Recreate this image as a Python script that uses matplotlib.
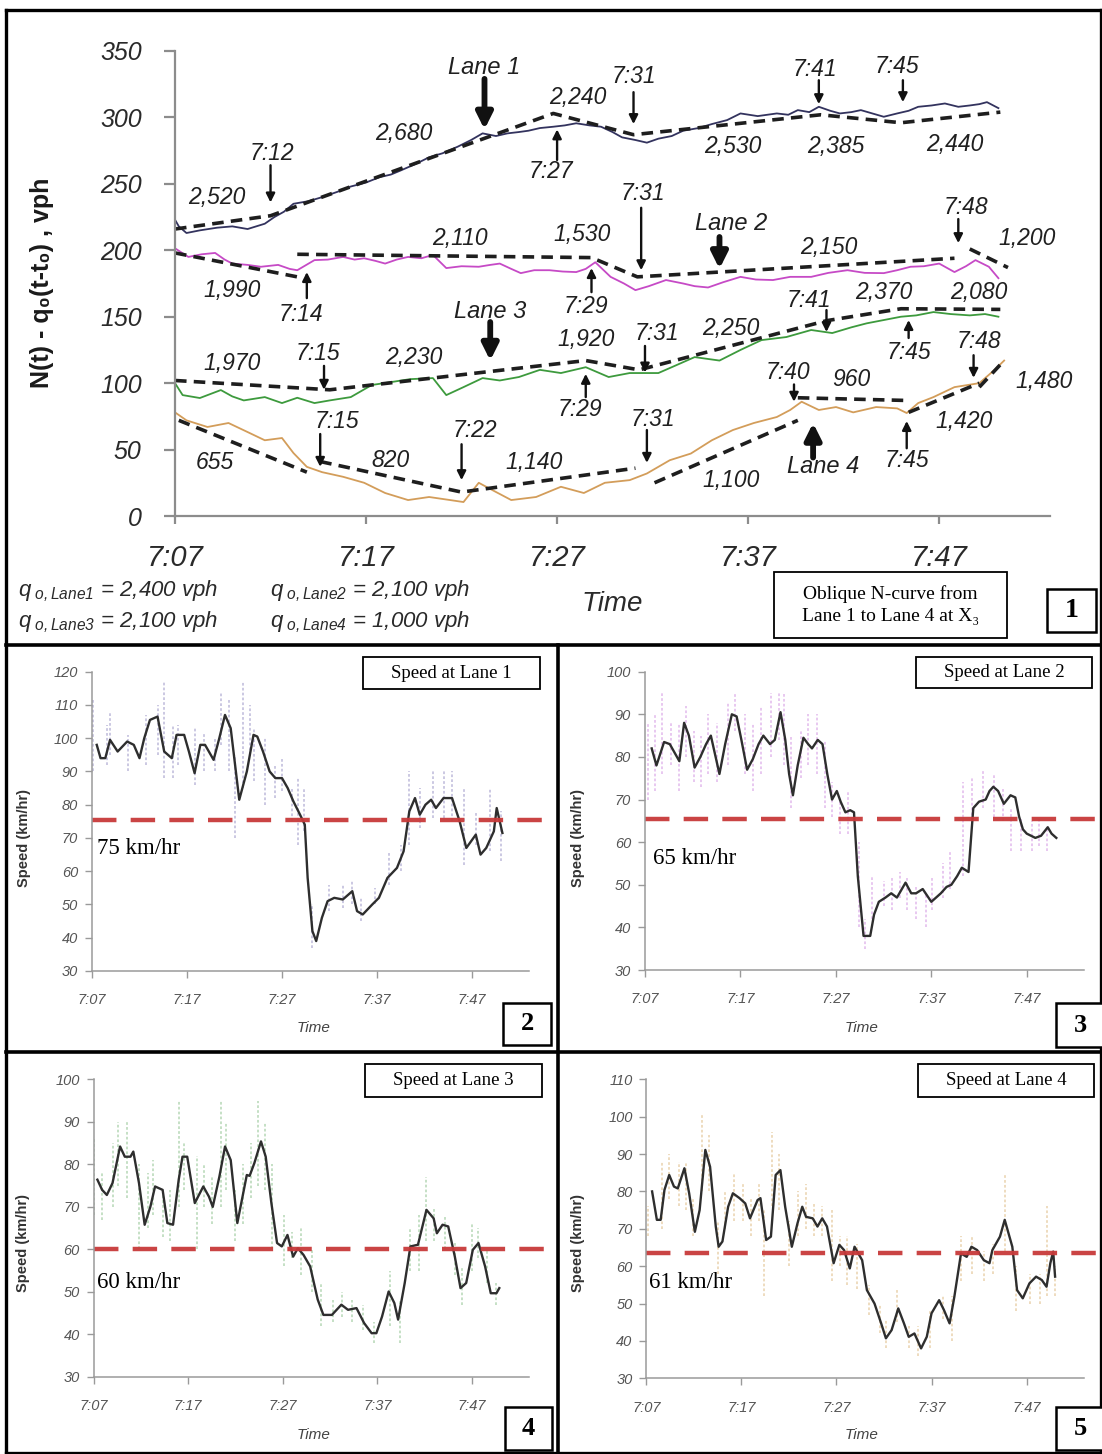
import numpy as np
import matplotlib
matplotlib.use('Agg')
import matplotlib.pyplot as plt
from matplotlib.patches import Rectangle
from matplotlib.lines import Line2D

nan = np.nan
W, H = 1102, 1454

# ---------------- data: oblique N-curves (minutes after 7:07, vehicles) ----------------
time_ticks = [0, 10, 20, 30, 40]
time_labels = ['7:07', '7:17', '7:27', '7:37', '7:47']

lane1_t = [0, 0.2, 0.6, 1.3, 2.2, 3.0, 3.8, 4.7, 5.2, 5.7, 6.2, 7.0, 7.7, 8.5, 9.2, 10.0, 10.7, 11.3, 11.8, 12.6,
           13.3, 14.0, 14.8, 15.5, 16.1, 16.8, 17.4, 18.0, 18.5, 19.1, 19.8, 20.4, 21.0, 21.7, 22.3, 22.9, 23.4, 24.1,
           24.7, 25.3, 26.0, 26.6, 27.4, 28.1, 28.9, 29.6, 30.5, 31.5, 32.1, 32.6, 33.2, 33.7, 34.3, 34.8, 35.4, 35.9,
           36.5, 37.1, 37.8, 38.4, 38.9, 39.6, 40.3, 41.0, 41.6, 42.1, 42.5, 43.1]
lane1_n = [223, 218, 213, 215, 217, 218, 216, 220, 225, 229, 235, 237, 240, 244, 248, 251, 255, 257, 260, 265,
           270, 273, 278, 283, 288, 286, 288, 289, 290, 292, 293, 294, 295.6, 294, 293, 289, 285, 283,
           281, 284, 286, 290, 292, 295, 298, 303, 301, 303, 302, 305.5, 304, 308, 305, 303, 304, 305.5,
           303, 300.5, 303, 305, 308, 309, 310.5, 308, 309, 310, 311.5, 307]
lane2_t = [0, 0.7, 1.4, 2.1, 2.6, 3.0, 3.8, 4.5, 5.4, 6.0, 6.4, 7.3, 8.0, 8.8, 9.4, 9.9, 10.5, 11.0, 11.6, 12.2,
           12.9, 13.5, 14.2, 15.0, 15.9, 16.5, 17.0, 17.6, 18.1, 18.8, 19.6, 20.3, 21.0, 21.5, 22.0, 22.8, 23.5, 24.1,
           24.8, 25.7, 26.6, 27.2, 27.9, 28.7, 29.6, 30.4, 31.3, 32.2, 33.3, 34.2, 35.2, 36.1, 37.1, 37.8, 38.5, 39.2,
           40.0, 40.8, 41.4, 41.9, 42.6, 43.1]
lane2_n = [201.5, 195, 197, 198, 193, 190, 189, 187.6, 189, 186, 185, 192.6, 193, 195, 193, 194, 192, 190, 193, 195,
           194, 196.5, 186.6, 188, 187.6, 189, 190, 186, 182.8, 185, 185, 184, 183.6, 186, 191, 180, 175, 170,
           173, 177.6, 175, 173, 172, 176, 180, 178, 177.6, 180, 180, 183, 185, 183, 182.8, 185, 187.6, 188,
           190, 183.6, 188, 192.6, 187.6, 179]
lane3_t = [0, 0.4, 1.3, 2.4, 3.0, 3.6, 4.7, 5.6, 6.4, 7.3, 8.1, 9.2, 10.3, 11.4, 12.3, 13.5, 14.2, 15.1, 16.1, 17.0,
           18.0, 19.1, 20.2, 21.5, 22.7, 23.8, 25.3, 26.0, 27.2, 28.5, 29.6, 30.7, 32.0, 33.3, 34.4, 35.4, 36.2, 37.1,
           38.0, 38.8, 39.7, 40.6, 41.6, 42.4, 43.1]
lane3_n = [100, 91, 88.8, 94.8, 90, 87, 89.5, 85, 89, 85, 87, 89.5, 98.6, 101, 103, 103.8, 91, 97, 103.8, 102,
           104.6, 110, 107.6, 112, 104.6, 107.6, 107.6, 112, 119.6, 117, 125, 132.4, 134.7, 140, 137.7, 142, 145, 147.5,
           150, 151, 153.5, 152, 151, 152, 150]
lane4_t = [0, 0.6, 1.7, 2.8, 3.9, 4.7, 5.6, 6.2, 6.9, 7.7, 8.8, 9.9, 11.0, 12.2, 13.3, 14.4, 15.1, 15.9, 16.6, 17.6,
           18.9, 20.2, 21.4, 22.5, 23.8, 24.7, 25.9, 27.0, 28.1, 29.2, 30.3, 31.5, 32.2, 32.8, 33.7, 34.6, 35.5, 36.7,
           37.8, 38.3, 38.9, 39.7, 40.8, 42.1, 42.9, 43.4]
lane4_n = [78, 72, 67, 70, 62.5, 57, 58.7, 47.4, 37, 33, 29.5, 25, 17.3, 12, 14.3, 12, 10.5, 25, 19.6, 12,
           14.3, 22, 17.3, 25, 27, 32, 42, 47, 57, 64.7, 70, 74.5, 79.8, 86, 79.8, 82, 78, 82,
           81, 77.5, 85, 89.5, 97, 100, 110, 117]

# piecewise-linear oblique fits (NaN separates pieces)
lane1_fit_t = [0, 5, 19.8, 24, 33.8, 38, 43.2]
lane1_fit_n = [216, 226, 303, 287, 302, 296, 304]
lane2_fit_t = [0, 6.4, nan, 6.4, 21.8, 24.2, 40.8, nan, 41.6, 43.6]
lane2_fit_n = [198, 180, nan, 197, 194.5, 180, 194, nan, 201, 187]
lane3_fit_t = [0, 8.1, 21.5, 24.3, 34.1, 38, 43.2]
lane3_fit_n = [102, 95, 117, 110, 147, 156, 155.5]
lane4_fit_t = [0.2, 6.9, nan, 7.6, 15, 24.1, nan, 25.1, 32.6, nan, 32.6, 38.2, nan, 38.4, 42.1, nan, 42.1, 43.4]
lane4_fit_n = [72, 33, nan, 41, 18, 36, nan, 25, 72, nan, 89, 87, nan, 78, 100, nan, 97, 117]

# ---------------- data: speeds (km/hr) ----------------
spd1_t = [0.5, 0.9, 1.4, 1.9, 2.7, 3.7, 4.4, 5.0, 5.5, 6.1, 6.9, 7.6, 8.4, 8.9, 9.7, 10.2, 10.8, 11.4, 11.9, 12.8,
          13.4, 14.0, 14.6, 15.5, 16.3, 17.0, 17.4, 18.0, 18.7, 19.3, 20.0, 20.6, 21.2, 21.9, 22.4, 22.7, 23.2, 23.6,
          24.2, 24.8, 25.5, 26.4, 27.4, 27.9, 28.5, 29.5, 30.2, 31.1, 32.1, 32.8, 33.4, 34.0, 34.5, 35.1, 35.7, 36.2,
          37.0, 37.9, 38.7, 39.4, 40.4, 40.9, 41.5, 42.3, 42.6, 43.2]
spd1_v = [98, 94, 94, 99.5, 96, 99, 98, 94, 100, 105.5, 106.5, 96, 94, 101, 101, 96, 89.5, 98, 98, 93.5,
          100, 107, 103, 81.5, 90, 101, 100.5, 96, 90, 88, 88, 85, 81, 77, 74, 58, 42, 39,
          46, 51, 52, 51.5, 54, 48, 47, 50, 52, 58, 61, 66, 78, 82, 77, 80, 81.5, 79,
          82, 82, 75, 67, 71, 65, 67, 72, 79, 71.5]
spd2_t = [0.7, 1.2, 2.0, 2.6, 3.1, 3.6, 4.1, 4.6, 5.2, 5.8, 6.4, 6.9, 7.4, 7.8, 8.4, 9.1, 9.6, 10.1, 10.7, 11.3,
          11.9, 12.4, 13.1, 13.6, 14.2, 14.7, 15.1, 15.5, 16.0, 16.6, 17.1, 17.5, 18.1, 18.6, 19.1, 19.6, 20.1, 20.5,
          21.0, 21.5, 21.9, 22.3, 22.9, 23.6, 24.0, 24.5, 25.2, 25.8, 26.4, 27.3, 27.9, 28.4, 29.1, 30.0, 30.5, 31.0,
          31.6, 32.1, 32.7, 33.2, 33.9, 34.4, 35.0, 35.7, 36.1, 36.5, 37.0, 37.6, 38.3, 38.8, 39.2, 39.6, 40.0, 40.9,
          41.5, 42.2, 42.6, 43.1]
spd2_v = [82, 78, 83.5, 83, 81, 79, 88, 85, 77.5, 80, 83, 85, 80, 76, 83, 90, 89.5, 84, 77, 79.5,
          83, 85, 83, 84, 90.5, 84, 76, 71, 78, 84.5, 83, 82, 84, 83, 76, 70, 72, 69.5,
          67, 67.5, 67, 52, 38, 38, 43, 46, 47, 48, 47, 50.5, 48, 48, 49, 46, 47, 48,
          49.5, 50, 52, 54, 53, 68, 69.5, 70, 72, 73, 72, 69, 71, 70.5, 66, 63, 62, 61,
          61.5, 63.5, 62, 61]
spd3_t = [0.4, 0.9, 1.4, 2.0, 2.8, 3.3, 3.9, 4.2, 4.8, 5.4, 6.0, 6.5, 7.3, 7.8, 8.4, 9.0, 9.4, 9.9, 10.7, 11.6,
          12.2, 12.6, 13.3, 13.9, 14.5, 15.2, 16.2, 16.5, 17.0, 17.7, 18.2, 18.8, 19.4, 19.9, 20.5, 21.1, 21.6, 22.2,
          22.9, 23.7, 24.3, 25.2, 26.2, 26.9, 27.8, 28.6, 29.4, 29.9, 30.5, 31.2, 31.8, 32.2, 32.9, 33.5, 34.3, 35.2,
          35.96, 36.3, 36.9, 37.5, 38.2, 38.8, 39.4, 40.1, 40.7, 41.4, 42.0, 42.6, 42.9]
spd3_v = [76.4, 74, 72.8, 75.6, 84.2, 81.8, 81.8, 83, 75.6, 65.8, 70, 74.8, 74, 66.2, 65.8, 76.4, 81.8, 81.8, 70.9, 74.8,
          72.4, 70, 77.1, 84.2, 81, 66.2, 77.5, 77.3, 80.3, 85.4, 81.8, 70.9, 61.5, 60.7, 63.4, 58.3, 60.3, 58.7,
          56, 48.2, 44.6, 44.6, 47, 45.8, 46.2, 42.7, 40.3, 40.3, 44.2, 50.1, 47.4, 43.5, 52.1, 60.7, 61.1, 69.3,
          67.3, 63.8, 65.8, 65.4, 58.3, 50.9, 52.1, 59.9, 61.5, 56, 49.7, 49.7, 50.9]
spd4_t = [0.6, 1.1, 1.5, 1.9, 2.4, 2.9, 3.3, 4.0, 4.5, 5.1, 5.6, 6.2, 6.7, 7.3, 7.6, 8.0, 8.6, 9.1, 9.8, 10.4,
          10.9, 11.7, 12.0, 12.6, 13.1, 13.6, 14.1, 14.6, 15.3, 15.9, 16.4, 16.8, 17.5, 18.0, 18.5, 19.0, 19.7, 20.3,
          20.8, 21.4, 21.9, 22.7, 23.2, 24.0, 24.7, 25.2, 25.8, 26.5, 27.1, 27.6, 28.2, 28.9, 29.5, 30.0, 30.8, 31.3,
          31.9, 32.4, 33.1, 33.7, 34.2, 34.8, 35.5, 36.1, 36.4, 37.2, 37.7, 38.5, 39.0, 39.6, 40.3, 41.0, 41.6, 42.1,
          42.5, 42.8, 43.0]
spd4_v = [80, 72.4, 72.4, 80.4, 84.4, 81.3, 80.8, 86.2, 79.5, 69.2, 75, 91.1, 86.6, 70.6, 65.2, 66.6, 75.9, 79.5, 78.2, 76.8,
          72.8, 77.7, 78.2, 67, 67.9, 84.4, 85.7, 75.9, 65.2, 71.5, 75.9, 73.2, 72.8, 70.6, 72.8, 70.6, 60.8, 65.7,
          64.3, 59.4, 65.2, 61.6, 53.6, 50, 44.7, 40.7, 42.9, 48.7, 44.7, 41.1, 42, 38, 41.1, 47.4, 50.9, 48.3,
          44.7, 51.8, 63.4, 62.5, 65.2, 64.3, 61.6, 60.8, 64.3, 67.9, 72.4, 65.2, 53.6, 51.4, 55.4, 57.2, 56.3, 54.5,
          60.8, 63.9, 57.2]

# raw (unsmoothed) speed scatter ranges
raw1_t = [0.15, 1.6, 1.9, 3.8, 5.7, 6.9, 7.6, 8.5, 9.1, 10.8, 11.8, 12.9, 13.6, 14.4, 15.1, 15.9, 16.6, 17.1, 18.2, 19.3,
          20.0, 21.0, 21.7, 22.3, 23.2, 24.9, 26.4, 27.4, 28.3, 29.8, 31.3, 32.5, 33.4, 34.5, 35.9, 37.0, 37.9, 39.2,
          40.4, 41.9, 43.0]
raw1_lo = [90, 92, 95, 90, 92, 95, 88, 88, 92, 86, 90, 90, 98, 90, 70, 85, 95, 87, 80, 82,
           84, 75, 68, 72, 37, 48, 49, 50, 45, 50, 56, 60, 68, 73, 76, 76, 75, 62, 68, 66, 63]
raw1_hi = [112, 104, 108, 101, 107, 110, 117, 104, 104, 103, 102, 100, 114, 112, 95, 117, 110, 103, 100, 92,
           94, 85, 88, 85, 50, 56, 56, 57, 52, 55, 66, 68, 90, 85, 90, 90, 90, 85, 78, 85, 78]
raw2_t = [0.3, 1.0, 1.8, 2.7, 3.6, 4.3, 5.1, 5.9, 6.6, 7.5, 8.7, 9.4, 10.5, 11.3, 12.2, 13.2, 14.0, 14.6, 15.3, 16.3,
          17.1, 18.0, 18.9, 19.6, 20.4, 21.3, 22.4, 23.1, 23.8, 25.0, 25.9, 26.7, 27.5, 28.4, 29.4, 30.1, 31.2, 32.0,
          33.3, 34.3, 35.4, 36.6, 37.5, 38.4, 39.4, 40.5, 41.3, 42.1]
raw2_lo = [70, 72, 76, 78, 72, 80, 74, 73, 76, 74, 78, 86, 76, 72, 76, 80, 84, 78, 68, 75,
           78, 76, 68, 66, 62, 62, 40, 35, 42, 45, 44, 47, 44, 42, 40, 44, 47, 49, 52, 64,
           68, 66, 65, 58, 58, 58, 59, 58]
raw2_hi = [88, 90, 95, 88, 88, 92, 86, 85, 90, 88, 93, 95, 90, 88, 92, 95, 95, 95, 85, 86,
           90, 90, 84, 74, 70, 72, 60, 42, 52, 51, 52, 53, 52, 50, 48, 52, 55, 58, 74, 75,
           77, 76, 73, 68, 66, 65, 66, 63]
raw3_t = [0.0, 0.9, 2.0, 2.6, 3.5, 4.8, 5.7, 6.3, 7.3, 8.1, 9.0, 9.6, 10.9, 11.7, 12.5, 13.5, 14.0, 15.0, 15.8, 16.6,
          17.4, 18.1, 18.9, 20.1, 21.0, 21.9, 23.1, 24.0, 25.3, 26.3, 27.3, 28.5, 29.6, 31.3, 32.4, 33.5, 34.4, 35.2,
          36.0, 37.2, 38.2, 39.0, 40.0, 40.6, 41.6, 42.5]
raw3_lo = [68, 67, 70, 75, 72, 60, 65, 68, 63, 62, 70, 74, 60, 70, 66, 70, 74, 62, 66, 72,
           75, 74, 60, 56, 58, 54, 50, 42, 43, 44, 43, 41, 38, 42, 38, 55, 55, 62, 62, 60,
           54, 47, 55, 58, 52, 47]
raw3_hi = [86, 78, 85, 90, 90, 80, 78, 81, 74, 74, 95, 85, 82, 80, 77, 95, 90, 74, 80, 85,
           95, 90, 80, 68, 64, 65, 60, 52, 48, 50, 48, 47, 43, 55, 48, 65, 68, 77, 70, 68,
           62, 56, 66, 65, 60, 52]
raw4_t = [0.2, 1.6, 2.4, 3.4, 4.2, 4.9, 5.9, 6.6, 7.5, 8.3, 9.2, 10.2, 11.0, 11.8, 12.4, 13.2, 14.0, 15.0, 16.0, 16.8,
          17.6, 18.5, 19.5, 20.4, 21.1, 22.2, 23.4, 24.6, 25.2, 26.4, 27.6, 28.6, 29.8, 31.2, 32.2, 33.1, 34.3, 35.5,
          36.5, 37.7, 38.9, 40.4, 41.4, 42.2, 43.0]
raw4_lo = [68, 70, 78, 76, 75, 68, 80, 80, 58, 70, 72, 72, 68, 72, 52, 76, 75, 60, 68, 70,
           68, 68, 56, 60, 55, 54, 47, 42, 38, 45, 38, 36, 38, 46, 40, 56, 58, 56, 58, 64,
           48, 50, 50, 52, 52]
raw4_hi = [76, 88, 90, 88, 88, 78, 101, 95, 72, 80, 85, 82, 78, 82, 75, 96, 90, 72, 80, 82,
           77, 76, 75, 68, 68, 66, 55, 50, 46, 54, 44, 44, 48, 52, 52, 68, 68, 64, 66, 85,
           60, 58, 58, 76, 60]

thresholds = [75.5, 65.5, 60, 63.5]
threshold_labels = ['75 km/hr', '65 km/hr', '60 km/hr', '61 km/hr']

# ---------------- style ----------------
plt.rcParams['font.family'] = ['Liberation Sans', 'DejaVu Sans']
plt.rcParams['mathtext.fontset'] = 'custom'
plt.rcParams['mathtext.it'] = 'Liberation Sans:italic'
plt.rcParams['mathtext.rm'] = 'Liberation Sans:italic'
plt.rcParams['mathtext.default'] = 'it'
SERIF = ['Liberation Serif', 'DejaVu Serif']

fig = plt.figure(figsize=(W / 100, H / 100), dpi=100)


def fx(x):
    return x / W


def fy(y):
    return 1 - y / H


def rect(l, t, r, b):
    return [fx(l), fy(b), fx(r) - fx(l), fy(t) - fy(b)]


def fig_line(x0, y0, x1, y1, lw=2.4):
    fig.add_artist(Line2D([fx(x0), fx(x1)], [fy(y0), fy(y1)], transform=fig.transFigure,
                          color='black', lw=lw, solid_capstyle='projecting'))


def fig_box(l, t, r, b, text, size, bold=False, lw=1.3, linespacing=1.2):
    fig.add_artist(Rectangle((fx(l), fy(b)), fx(r) - fx(l), fy(t) - fy(b), transform=fig.transFigure,
                             fc='white', ec='black', lw=lw, zorder=5))
    fig.text(fx((l + r) / 2), fy((t + b) / 2), text, ha='center', va='center', fontsize=size,
             family=SERIF, fontweight='bold' if bold else 'normal', zorder=6, linespacing=linespacing)


# ---------------- top panel ----------------
ax = fig.add_axes(rect(175, 51, 1050, 516))
ax.set_xlim(0, 45.8)
ax.set_ylim(0, 350)
for s in ['top', 'right']:
    ax.spines[s].set_visible(False)
for s in ['left', 'bottom']:
    ax.spines[s].set_color('#8c8c8c')
    ax.spines[s].set_linewidth(1.6)
ax.set_yticks(range(0, 351, 50))
ax.set_yticklabels([str(v) for v in range(0, 351, 50)], fontsize=18, fontstyle='italic', color='#2a2a2a')
ax.set_xticks(time_ticks)
ax.set_xticklabels(time_labels, fontsize=21, fontstyle='italic', color='#2a2a2a')
ax.tick_params(axis='y', direction='out', length=8, width=1.6, color='#8c8c8c', pad=16)
ax.tick_params(axis='x', direction='out', length=6, width=1.6, color='#8c8c8c', pad=14)
ax.patch.set_alpha(0)

ax.plot(lane1_t, lane1_n, color='#33335e', lw=1.3)
ax.plot(lane2_t, lane2_n, color='#c64ac6', lw=1.3)
ax.plot(lane3_t, lane3_n, color='#3d9a3d', lw=1.3)
ax.plot(lane4_t, lane4_n, color='#d39d5a', lw=1.3)
for ft, fn in [(lane1_fit_t, lane1_fit_n), (lane2_fit_t, lane2_fit_n),
               (lane3_fit_t, lane3_fit_n), (lane4_fit_t, lane4_fit_n)]:
    ax.plot(ft, fn, color='#1e1e1e', lw=2.6, ls=(0, (3.2, 2.0)))

TXT = '#202020'


def note(s, t, v, size=16.5):
    ax.text(t, v, s, ha='center', va='center', fontsize=size, fontstyle='italic', color=TXT)


def arrow(t0, v0, t1, v1, thick=False):
    if thick:
        props = dict(arrowstyle='-|>', lw=4.2, mutation_scale=24, color='#111111', shrinkA=0, shrinkB=0)
    else:
        props = dict(arrowstyle='-|>', lw=1.7, mutation_scale=13, color='#111111', shrinkA=0, shrinkB=0)
    ax.annotate('', xy=(t1, v1), xytext=(t0, v0), arrowprops=props)


# lane 1 labels
note('Lane 1', 16.2, 337.8, 17)
arrow(16.2, 329, 16.2, 291, thick=True)
note('2,240', 21.1, 315.3)
note('7:31', 24.0, 331)
arrow(24.0, 319, 24.0, 295)
note('2,680', 12.0, 288)
note('7:12', 5.1, 273)
arrow(5.0, 264, 5.0, 236)
note('2,520', 2.2, 240)
note('7:27', 19.7, 259)
arrow(20.0, 268, 20.0, 291)
note('2,530', 29.2, 278)
note('7:41', 33.5, 336)
arrow(33.7, 328, 33.7, 310)
note('2,385', 34.6, 278)
note('7:45', 37.8, 338)
arrow(38.1, 328, 38.1, 311.5)
note('2,440', 40.8, 280)
# lane 2 labels
note('7:31', 24.5, 243)
arrow(24.4, 232, 24.4, 185)
note('1,530', 21.3, 212)
note('2,110', 14.9, 209)
note('Lane 2', 29.1, 220, 17)
arrow(28.5, 210, 28.5, 186, thick=True)
note('2,150', 34.2, 202)
note('7:48', 41.4, 232.5)
arrow(41.0, 223.5, 41.0, 205.4)
note('1,200', 44.6, 209)
note('1,990', 3.0, 170)
note('7:14', 6.6, 152)
arrow(6.9, 164, 6.9, 183.6)
note('7:29', 21.5, 158)
arrow(21.8, 168.5, 21.8, 186.6)
# lane 3 labels
note('Lane 3', 16.5, 154, 17)
arrow(16.5, 146, 16.5, 117, thick=True)
note('1,970', 3.0, 115)
note('7:15', 7.5, 122)
arrow(7.8, 113, 7.8, 95)
note('2,230', 12.5, 119)
note('1,920', 21.5, 133)
note('7:31', 25.2, 137)
arrow(24.6, 128, 24.6, 108)
note('2,250', 29.1, 141.5)
note('7:41', 33.2, 162.5)
arrow(34.1, 155, 34.1, 138.5)
note('2,370', 37.1, 168)
note('2,080', 42.1, 168)
note('7:45', 38.4, 123)
arrow(38.4, 134, 38.4, 147.5)
note('7:48', 42.1, 131)
arrow(41.8, 121, 41.8, 104)
note('7:29', 21.2, 80)
arrow(21.5, 89.5, 21.5, 107)
note('7:40', 32.1, 108)
arrow(32.4, 99, 32.4, 86)
note('960', 35.4, 103)
note('1,480', 45.5, 101.5)
# lane 4 labels
note('7:15', 8.5, 71.5)
arrow(7.6, 61.7, 7.6, 37)
note('655', 2.1, 40.6)
note('820', 11.3, 41.4)
note('7:22', 15.7, 64)
arrow(15.0, 54, 15.0, 27)
note('1,140', 18.8, 40.6)
note('7:31', 25.0, 73)
arrow(24.7, 64.7, 24.7, 40)
note('1,100', 29.1, 27)
note('Lane 4', 33.9, 37, 17)
arrow(33.4, 44, 33.4, 70, thick=True)
note('1,420', 41.3, 71.5)
note('7:45', 38.3, 41.4)
arrow(38.3, 51, 38.3, 71.5)

fig.text(fx(42), fy(283), 'N(t) - q\u2080(t-t\u2080) , vph', rotation=90, ha='center', va='center',
         fontsize=18, fontweight='bold', color='#1a1a1a')
fig.text(fx(612), fy(604), 'Time', ha='center', va='center', fontsize=20, fontstyle='italic', color='#2a2a2a')
fig.text(fx(18), fy(591), r'$q_{\ o,Lane1}$ = 2,400 vph', ha='left', va='center', fontsize=16,
         fontstyle='italic', color='#2a2a2a')
fig.text(fx(270), fy(591), r'$q_{\ o,Lane2}$ = 2,100 vph', ha='left', va='center', fontsize=16,
         fontstyle='italic', color='#2a2a2a')
fig.text(fx(18), fy(622), r'$q_{\ o,Lane3}$ = 2,100 vph', ha='left', va='center', fontsize=16,
         fontstyle='italic', color='#2a2a2a')
fig.text(fx(270), fy(622), r'$q_{\ o,Lane4}$ = 1,000 vph', ha='left', va='center', fontsize=16,
         fontstyle='italic', color='#2a2a2a')
fig_box(774, 572, 1007, 638, 'Oblique N-curve from\nLane 1 to Lane 4 at X\u2083', 14, linespacing=1.45)
fig_box(1047, 589, 1096, 632, '1', 20, bold=True, lw=1.8)

# ---------------- speed panels ----------------
panels = [
    dict(r=(92, 671.7, 529, 971), ylim=(30, 120), t=spd1_t, v=spd1_v, rt=raw1_t, rlo=raw1_lo, rhi=raw1_hi,
         rc='#a9a4cf', ext=556, lab=(97, 848), ylab=(24, 838), xlab=(314, 1028),
         box=(363, 657, 540, 689), title='Speed at Lane 1', nbox=(503, 1003, 551, 1045), num='2'),
    dict(r=(645, 671.7, 1084, 970), ylim=(30, 100), t=spd2_t, v=spd2_v, rt=raw2_t, rlo=raw2_lo, rhi=raw2_hi,
         rc='#d9a3e6', ext=1100, lab=(653, 858), ylab=(578, 838), xlab=(862, 1028),
         box=(916, 657, 1092, 688), title='Speed at Lane 2', nbox=(1056, 1003, 1104, 1047), num='3'),
    dict(r=(93.6, 1079.3, 528.6, 1377), ylim=(30, 100), t=spd3_t, v=spd3_v, rt=raw3_t, rlo=raw3_lo, rhi=raw3_hi,
         rc='#9fcb9f', ext=556, lab=(97, 1282), ylab=(23, 1243), xlab=(314, 1435),
         box=(365, 1064, 542, 1097), title='Speed at Lane 3', nbox=(505, 1407, 552, 1450), num='4'),
    dict(r=(646.4, 1079.3, 1083.6, 1378.3), ylim=(30, 110), t=spd4_t, v=spd4_v, rt=raw4_t, rlo=raw4_lo,
         rhi=raw4_hi, rc='#e3c594', ext=1100, lab=(649, 1282), ylab=(578, 1243), xlab=(862, 1435),
         box=(918, 1064, 1094, 1097), title='Speed at Lane 4', nbox=(1056, 1407, 1104, 1450), num='5'),
]

for i, p in enumerate(panels):
    l, t, r, b = p['r']
    a = fig.add_axes(rect(l, t, r, b))
    a.patch.set_alpha(0)
    a.set_xlim(0, 46)
    a.set_ylim(*p['ylim'])
    for s in ['top', 'right']:
        a.spines[s].set_visible(False)
    for s in ['left', 'bottom']:
        a.spines[s].set_color('#9a9a9a')
        a.spines[s].set_linewidth(1.1)
    yt = list(range(p['ylim'][0], p['ylim'][1] + 1, 10))
    a.set_yticks(yt)
    a.set_yticklabels([str(v) for v in yt], fontsize=10.5, fontstyle='italic', color='#555555')
    a.set_xticks(time_ticks)
    a.set_xticklabels(time_labels, fontsize=10.5, fontstyle='italic', color='#555555')
    a.tick_params(axis='both', direction='out', length=5, width=1.0, color='#9a9a9a')
    a.tick_params(axis='y', pad=5)
    a.tick_params(axis='x', pad=11)
    a.vlines(p['rt'], p['rlo'], p['rhi'], colors=p['rc'], lw=1.3, linestyles=(0, (1.5, 1.2)), alpha=0.65)
    a.plot(p['t'], p['v'], color='#2e2e2e', lw=1.7)
    frac = (p['ext'] - l) / (r - l)
    a.axhline(thresholds[i], xmin=0, xmax=frac, clip_on=False, color='#c83a3a', lw=3.2,
              ls=(0, (5.5, 3.2)), alpha=0.95)
    fig.text(fx(p['lab'][0]), fy(p['lab'][1]), threshold_labels[i], ha='left', va='center',
             fontsize=16.5, family=SERIF, color='black')
    fig.text(fx(p['ylab'][0]), fy(p['ylab'][1]), 'Speed (km/hr)', rotation=90, ha='center', va='center',
             fontsize=10.5, fontweight='bold', color='#333333')
    fig.text(fx(p['xlab'][0]), fy(p['xlab'][1]), 'Time', ha='center', va='center',
             fontsize=11, fontstyle='italic', color='#444444')
    bl, bt, br, bb = p['box']
    fig_box(bl, bt, br, bb, p['title'], 13.5)
    nl, nt, nr, nb = p['nbox']
    fig_box(nl, nt, nr, nb, p['num'], 19, bold=True, lw=1.8)

# ---------------- panel frames ----------------
fig_line(6, 10, 1102, 10)
fig_line(6, 10, 6, 1454)
fig_line(1101, 10, 1101, 1454)
fig_line(6, 1453, 1102, 1453)
fig_line(6, 645, 1102, 645, lw=2.6)
fig_line(6, 1052, 1102, 1052, lw=2.6)
fig_line(558, 645, 558, 1454, lw=2.6)

fig.savefig('out.png', dpi=100)
